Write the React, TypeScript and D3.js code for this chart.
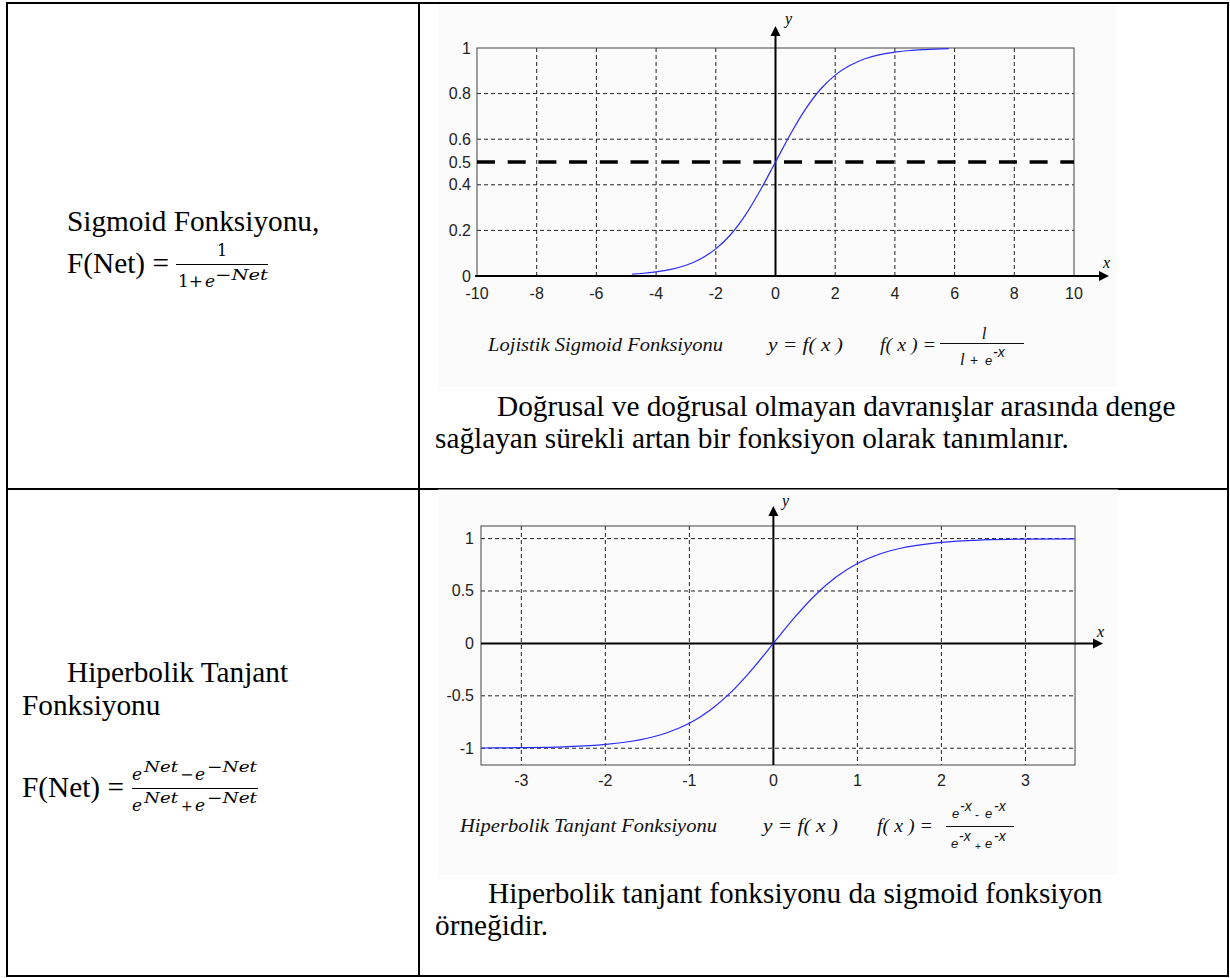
import React from 'react';
import * as d3 from 'd3';

// Logistic sigmoid curve, sampled points (x, y)
const sigmoidXs = [-4.8, -4.5, -4, -3.5, -3, -2.5, -2, -1.5, -1, -0.5, 0, 0.5, 1, 1.5, 2, 2.5, 3, 3.5, 4, 4.5, 5, 5.8];
const sigmoidYs = [0.008, 0.011, 0.018, 0.029, 0.047, 0.076, 0.119, 0.182, 0.269, 0.378, 0.5, 0.622, 0.731, 0.818, 0.881, 0.924, 0.953, 0.971, 0.982, 0.989, 0.993, 0.997];

// Hyperbolic tangent curve, sampled points (x, y)
const tanhXs = [-3.48, -3, -2.5, -2, -1.5, -1.25, -1, -0.75, -0.5, -0.25, 0, 0.25, 0.5, 0.75, 1, 1.25, 1.5, 2, 2.5, 3, 3.59];
const tanhYs = [-0.998, -0.995, -0.987, -0.964, -0.905, -0.848, -0.762, -0.635, -0.462, -0.245, 0, 0.245, 0.462, 0.635, 0.762, 0.848, 0.905, 0.964, 0.987, 0.995, 0.998];

// Ticks and grid positions
const sigmoidXTicks = [-10, -8, -6, -4, -2, 0, 2, 4, 6, 8, 10];
const sigmoidYTicks = [0, 0.2, 0.4, 0.5, 0.6, 0.8, 1];
const sigmoidGridX = [-8, -6, -4, -2, 2, 4, 6, 8];
const sigmoidGridY = [0.2, 0.4, 0.6, 0.8];
const sigmoidThreshold = 0.5;

const tanhXTicks = [-3, -2, -1, 0, 1, 2, 3];
const tanhYTicks = [-1, -0.5, 0, 0.5, 1];
const tanhGridX = [-3, -2, -1, 1, 2, 3];
const tanhGridY = [-1, -0.5, 0.5, 1];

const SERIF = "'Liberation Serif', 'Times New Roman', serif";
const SANS = "'Liberation Sans', Arial, sans-serif";
const MATH = "'DejaVu Serif', 'Liberation Serif', serif";

const GRID_DASH = '4,3';
const CURVE_COLOR = '#2b2bff';
const CAPTION_SIZE = 19;

type Pt = [number, number];

function Arrow({ x, y, dir }: { x: number; y: number; dir: 'up' | 'right' }) {
  const d =
    dir === 'up'
      ? `M${x},${y} L${x - 5},${y + 10} L${x + 5},${y + 10} Z`
      : `M${x},${y} L${x - 10},${y - 5} L${x - 10},${y + 5} Z`;
  return <path d={d} fill="#000" />;
}

// Italic superscript stretched to a given width
function Sup({ x, y, w, children }: { x: number; y: number; w: number; children: string }) {
  return (
    <text x={x} y={y} fontFamily={MATH} fontStyle="italic" fontSize={15} textLength={w} lengthAdjust="spacingAndGlyphs">
      {children}
    </text>
  );
}

function SigmoidChart() {
  const x = d3.scaleLinear().domain([-10, 10]).range([477, 1074]);
  const y = d3.scaleLinear().domain([0, 1]).range([276, 48]);
  const pts: Pt[] = sigmoidXs.map((v, i) => [v, sigmoidYs[i]]);
  const line = d3
    .line<Pt>()
    .x((d) => x(d[0]))
    .y((d) => y(d[1]))
    .curve(d3.curveMonotoneX);
  const [x0, x1] = x.range();
  const [y0, y1] = [y(1), y(0)];
  return (
    <g>
      <rect x={438} y={5} width={679} height={382} fill="#fbfbfb" />
      {sigmoidGridX.map((v) => (
        <line key={'gx' + v} x1={x(v)} x2={x(v)} y1={y0} y2={y1} stroke="#222" strokeWidth={1} strokeDasharray={GRID_DASH} />
      ))}
      {sigmoidGridY.map((v) => (
        <line key={'gy' + v} x1={x0} x2={x1} y1={y(v)} y2={y(v)} stroke="#222" strokeWidth={1} strokeDasharray={GRID_DASH} />
      ))}
      <rect x={x0} y={y0} width={x1 - x0} height={y1 - y0} fill="none" stroke="#444" strokeWidth={1} />
      <line x1={x0} x2={x1} y1={y(sigmoidThreshold)} y2={y(sigmoidThreshold)} stroke="#000" strokeWidth={3.5} strokeDasharray="18,12.7" />
      {/* axes */}
      <line x1={x0 - 2} x2={1100} y1={y(0)} y2={y(0)} stroke="#000" strokeWidth={2} />
      <Arrow x={1109} y={y(0)} dir="right" />
      <line x1={x(0)} x2={x(0)} y1={y(0)} y2={36} stroke="#000" strokeWidth={2} />
      <Arrow x={x(0)} y={26} dir="up" />
      <text x={785} y={24} fontFamily={SERIF} fontStyle="italic" fontSize={16}>y</text>
      <text x={1103} y={268} fontFamily={SERIF} fontStyle="italic" fontSize={16}>x</text>
      {/* ticks */}
      {sigmoidXTicks.map((v) => (
        <text key={'tx' + v} x={x(v)} y={299} textAnchor="middle" fontFamily={SANS} fontSize={16} fill="#222">
          {String(v)}
        </text>
      ))}
      {sigmoidYTicks.map((v) => (
        <text key={'ty' + v} x={471} y={y(v) + 5.5} textAnchor="end" fontFamily={SANS} fontSize={16} fill="#222">
          {String(v)}
        </text>
      ))}
      <path d={line(pts) || ''} fill="none" stroke={CURVE_COLOR} strokeWidth={1.2} />
      {/* caption */}
      <text x={488} y={351} fontFamily={SERIF} fontStyle="italic" fontSize={CAPTION_SIZE} textLength={235} lengthAdjust="spacingAndGlyphs" fill="#111">
        Lojistik Sigmoid Fonksiyonu
      </text>
      <text x={768} y={351} fontFamily={SERIF} fontStyle="italic" fontSize={CAPTION_SIZE} textLength={75} lengthAdjust="spacingAndGlyphs" fill="#111">
        y = f( x )
      </text>
      <text x={880} y={351} fontFamily={SERIF} fontStyle="italic" fontSize={CAPTION_SIZE} textLength={56} lengthAdjust="spacingAndGlyphs" fill="#111">
        f( x ) =
      </text>
      <line x1={940} x2={1024} y1={343.5} y2={343.5} stroke="#111" strokeWidth={1} />
      <text x={984} y={339} textAnchor="middle" fontFamily={SERIF} fontStyle="italic" fontSize={17} fill="#111">l</text>
      <text x={960} y={365} fontFamily={SERIF} fontStyle="italic" fontSize={17} fill="#111">l</text>
      <text x={970} y={365} fontFamily={SANS} fontSize={14} fill="#111">+</text>
      <text x={985} y={365} fontFamily={SANS} fontStyle="italic" fontSize={13} fill="#111">e</text>
      <text x={993} y={357} fontFamily={SANS} fontStyle="italic" fontSize={14} fill="#111">-x</text>
    </g>
  );
}

function TanhChart() {
  const x = d3.scaleLinear().domain([-3.48, 3.59]).range([481, 1075]);
  const y = d3.scaleLinear().domain([-1.16, 1.12]).range([765, 526]);
  const pts: Pt[] = tanhXs.map((v, i) => [v, tanhYs[i]]);
  const line = d3
    .line<Pt>()
    .x((d) => x(d[0]))
    .y((d) => y(d[1]))
    .curve(d3.curveMonotoneX);
  const [x0, x1] = x.range();
  const [y1, y0] = y.range();
  return (
    <g>
      <rect x={438} y={489.5} width={680} height={385.5} fill="#fbfbfb" />
      {tanhGridX.map((v) => (
        <line key={'gx' + v} x1={x(v)} x2={x(v)} y1={y0} y2={y1} stroke="#222" strokeWidth={1} strokeDasharray={GRID_DASH} />
      ))}
      {tanhGridY.map((v) => (
        <line key={'gy' + v} x1={x0} x2={x1} y1={y(v)} y2={y(v)} stroke="#222" strokeWidth={1} strokeDasharray={GRID_DASH} />
      ))}
      <rect x={x0} y={y0} width={x1 - x0} height={y1 - y0} fill="none" stroke="#444" strokeWidth={1} />
      {/* axes */}
      <line x1={x0} x2={1094} y1={y(0)} y2={y(0)} stroke="#000" strokeWidth={2} />
      <Arrow x={1103} y={y(0)} dir="right" />
      <line x1={x(0)} x2={x(0)} y1={y1} y2={515} stroke="#000" strokeWidth={2} />
      <Arrow x={x(0)} y={506} dir="up" />
      <text x={782} y={506} fontFamily={SERIF} fontStyle="italic" fontSize={16}>y</text>
      <text x={1097} y={637} fontFamily={SERIF} fontStyle="italic" fontSize={16}>x</text>
      {tanhXTicks.map((v) => (
        <text key={'tx' + v} x={x(v)} y={786} textAnchor="middle" fontFamily={SANS} fontSize={16} fill="#222">
          {String(v)}
        </text>
      ))}
      {tanhYTicks.map((v) => (
        <text key={'ty' + v} x={474} y={y(v) + 5.5} textAnchor="end" fontFamily={SANS} fontSize={16} fill="#222">
          {String(v)}
        </text>
      ))}
      <path d={line(pts) || ''} fill="none" stroke={CURVE_COLOR} strokeWidth={1.2} />
      {/* caption */}
      <text x={460} y={832} fontFamily={SERIF} fontStyle="italic" fontSize={CAPTION_SIZE} textLength={257} lengthAdjust="spacingAndGlyphs" fill="#111">
        Hiperbolik Tanjant  Fonksiyonu
      </text>
      <text x={763} y={832} fontFamily={SERIF} fontStyle="italic" fontSize={CAPTION_SIZE} textLength={75} lengthAdjust="spacingAndGlyphs" fill="#111">
        y = f( x )
      </text>
      <text x={877} y={832} fontFamily={SERIF} fontStyle="italic" fontSize={CAPTION_SIZE} textLength={56} lengthAdjust="spacingAndGlyphs" fill="#111">
        f( x ) =
      </text>
      <line x1={946} x2={1014} y1={826.5} y2={826.5} stroke="#111" strokeWidth={1} />
      {/* numerator */}
      <text x={952} y={818} fontFamily={SANS} fontStyle="italic" fontSize={13} fill="#111">e</text>
      <text x={960} y={811} fontFamily={SANS} fontStyle="italic" fontSize={14} fill="#111">-x</text>
      <text x={975} y={819} fontFamily={SANS} fontSize={12} fill="#111">-</text>
      <text x={985} y={818} fontFamily={SANS} fontStyle="italic" fontSize={13} fill="#111">e</text>
      <text x={994} y={811} fontFamily={SANS} fontStyle="italic" fontSize={14} fill="#111">-x</text>
      {/* denominator */}
      <text x={951} y={848} fontFamily={SANS} fontStyle="italic" fontSize={13} fill="#111">e</text>
      <text x={959} y={841} fontFamily={SANS} fontStyle="italic" fontSize={14} fill="#111">-x</text>
      <text x={975} y={850} fontFamily={SANS} fontSize={10} fill="#111">+</text>
      <text x={985} y={848} fontFamily={SANS} fontStyle="italic" fontSize={13} fill="#111">e</text>
      <text x={994} y={841} fontFamily={SANS} fontStyle="italic" fontSize={14} fill="#111">-x</text>
    </g>
  );
}

export default function App() {
  const body = 29.3;
  return (
    <svg
      width={1230}
      height={978}
      viewBox="0 0 1230 978"
      style={{ position: 'absolute', left: 0, top: 0, display: 'block', background: '#fff' }}
    >
      <rect x={0} y={0} width={1230} height={978} fill="#fff" />

      {/* table grid */}
      <line x1={7} x2={1228} y1={489} y2={489} stroke="#000" strokeWidth={2} />
      <line x1={419} x2={419} y1={3} y2={976} stroke="#000" strokeWidth={2} />
      <rect x={7} y={3} width={1221} height={973} fill="none" stroke="#000" strokeWidth={2} />

      <SigmoidChart />
      <TanhChart />

      {/* left column, first row */}
      <text x={67} y={231} fontFamily={SERIF} fontSize={body}>Sigmoid Fonksiyonu,</text>
      <text x={67} y={273} fontFamily={SERIF} fontSize={body}>F(Net) =</text>
      <line x1={176} x2={268} y1={264.5} y2={264.5} stroke="#000" strokeWidth={1.2} />
      <text x={222} y={256} textAnchor="middle" fontFamily={MATH} fontSize={16}>1</text>
      <text x={178} y={287} fontFamily={MATH} fontSize={17}>1+</text>
      <text x={205} y={287} fontFamily={MATH} fontStyle="italic" fontSize={17}>e</text>
      <Sup x={215} y={280} w={53}>−Net</Sup>

      {/* right column, first row */}
      <text x={497} y={416} fontFamily={SERIF} fontSize={body}>Doğrusal ve doğrusal olmayan davranışlar arasında denge</text>
      <text x={435} y={448} fontFamily={SERIF} fontSize={body}>sağlayan sürekli artan bir fonksiyon olarak tanımlanır.</text>

      {/* left column, second row */}
      <text x={67} y={682} fontFamily={SERIF} fontSize={body}>Hiperbolik Tanjant</text>
      <text x={22} y={715} fontFamily={SERIF} fontSize={body}>Fonksiyonu</text>
      <text x={22} y={797} fontFamily={SERIF} fontSize={body}>F(Net) =</text>
      <line x1={132} x2={258} y1={788.5} y2={788.5} stroke="#000" strokeWidth={1.2} />
      <text x={132} y={780} fontFamily={MATH} fontStyle="italic" fontSize={17}>e</text>
      <Sup x={144} y={772} w={34}>Net</Sup>
      <text x={180} y={780} fontFamily={MATH} fontSize={16}>−</text>
      <text x={195} y={780} fontFamily={MATH} fontStyle="italic" fontSize={17}>e</text>
      <Sup x={207} y={772} w={50}>−Net</Sup>
      <text x={132} y={811} fontFamily={MATH} fontStyle="italic" fontSize={17}>e</text>
      <Sup x={144} y={803} w={34}>Net</Sup>
      <text x={181} y={811} fontFamily={MATH} fontSize={14}>+</text>
      <text x={195} y={811} fontFamily={MATH} fontStyle="italic" fontSize={17}>e</text>
      <Sup x={207} y={803} w={50}>−Net</Sup>

      {/* right column, second row */}
      <text x={488} y={903} fontFamily={SERIF} fontSize={body}>Hiperbolik tanjant fonksiyonu da sigmoid fonksiyon</text>
      <text x={435} y={935} fontFamily={SERIF} fontSize={body}>örneğidir.</text>
    </svg>
  );
}
